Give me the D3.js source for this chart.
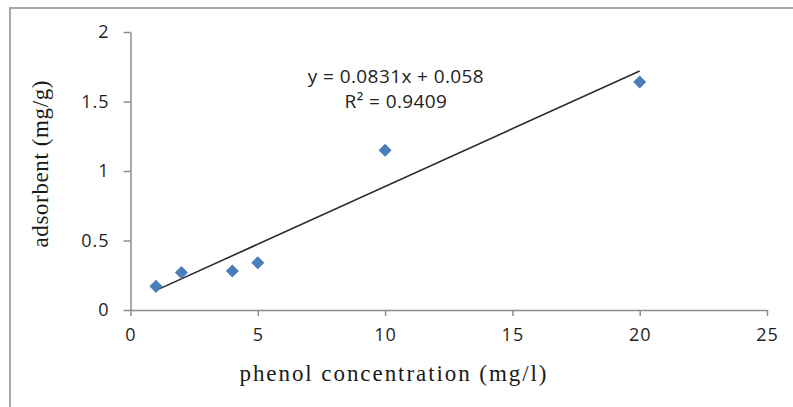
<!DOCTYPE html>
<html>
<head>
<meta charset="utf-8">
<script src="https://cdn.jsdelivr.net/npm/d3@7"></script>
<style>
  body { margin: 0; background: #fff; }
  svg { display: block; }
</style>
</head>
<body>
<svg id="chart"></svg>
<script>
// data
const concentration = [1, 2, 4, 5, 10, 20];
const adsorbed = [0.17, 0.27, 0.28, 0.34, 1.15, 1.64];
const xTicks = [0, 5, 10, 15, 20, 25];
const yTicks = [0, 0.5, 1, 1.5, 2];
const slope = 0.0831;
const intercept = 0.058;
const equationLines = ["y = 0.0831x + 0.058", "R² = 0.9409"];

const width = 793;
const height = 407;

const svg = d3.select("#chart")
  .attr("width", width)
  .attr("height", height);

svg.append("rect")
  .attr("width", width).attr("height", height)
  .attr("fill", "#fff");

// chart frame (only left/top edges visible)
svg.append("rect")
  .attr("x", 10).attr("y", 8)
  .attr("width", width + 20).attr("height", height + 20)
  .attr("fill", "none")
  .attr("stroke", "#a8a8a8")
  .attr("stroke-width", 2);

const xScale = d3.scaleLinear().domain([0, 25]).range([130.5, 767]);
const yScale = d3.scaleLinear().domain([0, 2]).range([310, 32]);

const xAxis = d3.axisBottom(xScale)
  .tickValues(xTicks)
  .tickSize(6)
  .tickSizeOuter(0)
  .tickPadding(12)
  .tickFormat(d3.format("~g"));

const yAxis = d3.axisLeft(yScale)
  .tickValues(yTicks)
  .tickSize(7)
  .tickSizeOuter(0)
  .tickPadding(14)
  .tickFormat(d3.format("~g"));

function styleAxis(g) {
  g.select(".domain").attr("stroke", "#8c8c8c").attr("stroke-width", 1.5);
  g.selectAll(".tick line").attr("stroke", "#8c8c8c").attr("stroke-width", 1.5);
  g.selectAll(".tick text")
    .attr("fill", "#1e1e1e")
    .style("font-family", "'Open Sans', sans-serif")
    .style("font-size", "18px")
    .style("letter-spacing", "1px");
}

svg.append("g")
  .attr("transform", `translate(0,${yScale(0)})`)
  .call(xAxis)
  .call(styleAxis);

svg.append("g")
  .attr("transform", `translate(${xScale(0)},0)`)
  .call(yAxis)
  .call(styleAxis);

// linear trend line over the data range
const xExtent = d3.extent(concentration);
svg.append("line")
  .attr("x1", xScale(xExtent[0]))
  .attr("y1", yScale(slope * xExtent[0] + intercept))
  .attr("x2", xScale(xExtent[1]))
  .attr("y2", yScale(slope * xExtent[1] + intercept))
  .attr("stroke", "#2b2b2b")
  .attr("stroke-width", 1.6);

// diamond markers
const diamond = d3.symbol().type(d3.symbolSquare).size(85);
svg.selectAll(".pt")
  .data(concentration)
  .enter()
  .append("path")
  .attr("class", "pt")
  .attr("d", diamond)
  .attr("transform", (d, i) => `translate(${xScale(d)},${yScale(adsorbed[i])}) rotate(45)`)
  .attr("fill", "#4a7ebb");

// equation label
svg.selectAll(".eq")
  .data(equationLines)
  .enter()
  .append("text")
  .attr("class", "eq")
  .attr("x", 396)
  .attr("y", (d, i) => 83 + i * 25)
  .attr("text-anchor", "middle")
  .attr("fill", "#222")
  .style("font-family", "'Open Sans', sans-serif")
  .style("font-size", "19px")
  .style("letter-spacing", "0.4px")
  .text(d => d);

// axis titles
svg.append("text")
  .attr("x", 393)
  .attr("y", 381)
  .attr("text-anchor", "middle")
  .attr("textLength", 307)
  .attr("lengthAdjust", "spacing")
  .attr("fill", "#1a1a1a")
  .style("font", "23px 'Liberation Serif', serif")
  .text("phenol concentration (mg/l)");

svg.append("text")
  .attr("transform", "translate(48,164) rotate(-90)")
  .attr("text-anchor", "middle")
  .attr("textLength", 167)
  .attr("lengthAdjust", "spacing")
  .attr("fill", "#1a1a1a")
  .style("font", "23px 'Liberation Serif', serif")
  .text("adsorbent (mg/g)");
</script>
</body>
</html>
